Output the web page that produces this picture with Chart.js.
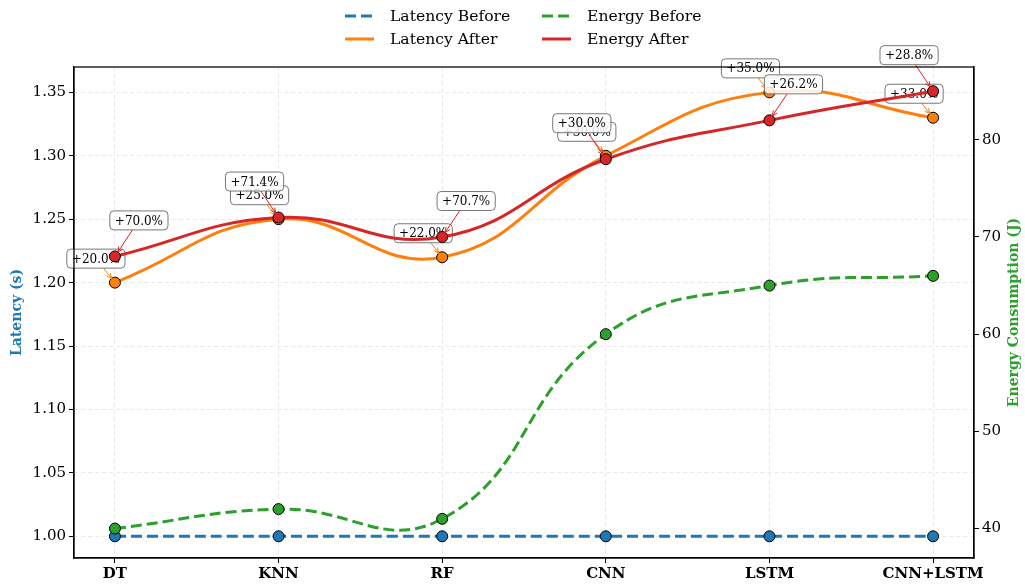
<!DOCTYPE html>
<html>
<head>
<meta charset="utf-8">
<script src="https://cdn.jsdelivr.net/npm/chart.js@4.4.0/dist/chart.umd.min.js"></script>
<style>
html, body { margin: 0; padding: 0; background: #fff; }
</style>
</head>
<body>
<canvas id="chart" width="1025" height="585"></canvas>
<script>
// values
const models = ["DT", "KNN", "RF", "CNN", "LSTM", "CNN+LSTM"]
const latencyBefore = [1.00, 1.00, 1.00, 1.00, 1.00, 1.00]
const latencyAfter = [1.20, 1.25, 1.22, 1.30, 1.35, 1.33]
const energyBefore = [40, 42, 41, 60, 65, 66]
const energyAfter = [68, 72, 70, 78, 82, 85]
const latencyTicks = [1.00, 1.05, 1.10, 1.15, 1.20, 1.25, 1.30, 1.35]
const energyTicks = [40, 50, 60, 70, 80]

const SERIF = "'DejaVu Serif', serif"
Chart.defaults.font.family = SERIF
Chart.defaults.color = "#000"

const pts = arr => arr.map((v, i) => ({ x: i, y: v }))
const pct = (a, b) => b.map((v, i) => "+" + ((v - a[i]) / a[i] * 100).toFixed(1) + "%")

function lineSet(label, data, color, axis, dashed, order) {
    return {
        label: label,
        data: pts(data),
        yAxisID: axis,
        borderColor: color,
        backgroundColor: color,
        borderWidth: 3,
        borderDash: dashed ? [11, 5] : [],
        tension: 0.45,
        pointRadius: 5.5,
        pointBorderColor: "#000",
        pointBorderWidth: 1,
        pointBackgroundColor: color,
        order: order
    }
}

const latAfterSet = lineSet("Latency After", latencyAfter, "#ff7f0e", "y", false, 3)
latAfterSet.notes = { labels: pct(latencyBefore, latencyAfter), dx: [-19], dy: -24 }
const enAfterSet = lineSet("Energy After", energyAfter, "#d62728", "y1", false, 1)
enAfterSet.notes = { labels: pct(energyBefore, energyAfter), dx: [24, -24], dy: -36 }

const datasets = [
    lineSet("Latency Before", latencyBefore, "#1f77b4", "y", true, 4),
    lineSet("Energy Before", energyBefore, "#2ca02c", "y1", true, 2),
    latAfterSet,
    enAfterSet
]

// percent boxes with arrows, drawn right after their series
const annotate = {
    id: "annotate",
    afterDatasetDraw(chart, args) {
        const ds = chart.data.datasets[args.index]
        if (!ds.notes) return
        const ctx = chart.ctx
        const xs = chart.scales.x
        const ys = chart.scales[ds.yAxisID]
        ctx.save()
        ctx.font = "12px " + SERIF
        ds.data.forEach((p, i) => {
            const px = xs.getPixelForValue(p.x)
            const py = ys.getPixelForValue(p.y)
            const cx = px + ds.notes.dx[i % ds.notes.dx.length]
            const cy = py + ds.notes.dy
            const text = ds.notes.labels[i]
            const w = ctx.measureText(text).width + 10
            const h = 19
            // arrow from box edge to point
            const vx = px - cx, vy = py - cy
            const len = Math.hypot(vx, vy)
            const ux = vx / len, uy = vy / len
            const tEdge = Math.min(Math.abs((w / 2) / (ux || 1e-9)), Math.abs((h / 2) / (uy || 1e-9)))
            const sx = cx + ux * tEdge, sy = cy + uy * tEdge
            const ex = px - ux * 5, ey = py - uy * 5
            ctx.strokeStyle = ds.borderColor
            ctx.lineWidth = 1
            ctx.setLineDash([])
            ctx.beginPath()
            ctx.moveTo(sx, sy)
            ctx.lineTo(ex, ey)
            const a = Math.atan2(uy, ux)
            ctx.moveTo(ex - 6 * Math.cos(a - 0.4), ey - 6 * Math.sin(a - 0.4))
            ctx.lineTo(ex, ey)
            ctx.lineTo(ex - 6 * Math.cos(a + 0.4), ey - 6 * Math.sin(a + 0.4))
            ctx.stroke()
            // box
            ctx.beginPath()
            ctx.roundRect(cx - w / 2, cy - h / 2, w, h, 4)
            ctx.fillStyle = "rgba(255,255,255,0.85)"
            ctx.fill()
            ctx.strokeStyle = "#777"
            ctx.stroke()
            ctx.fillStyle = "#000"
            ctx.textAlign = "center"
            ctx.textBaseline = "middle"
            ctx.fillText(text, cx, cy + 1)
        })
        ctx.restore()
    },
    afterDraw(chart) {
        const ctx = chart.ctx
        const area = chart.chartArea
        ctx.save()
        ctx.strokeStyle = "#000"
        ctx.lineWidth = 1.25
        ctx.setLineDash([])
        ctx.strokeRect(area.left, area.top, area.right - area.left, area.bottom - area.top)

        // axis titles, both reading bottom to top
        const midY = (area.top + area.bottom) / 2
        ctx.font = "bold 14px " + SERIF
        ctx.textAlign = "center"
        ctx.textBaseline = "middle"
        ctx.translate(17, midY)
        ctx.rotate(-Math.PI / 2)
        ctx.fillStyle = "#1f77b4"
        ctx.fillText("Latency (s)", 0, 0)
        ctx.setTransform(1, 0, 0, 1, 0, 0)
        ctx.translate(1014, midY)
        ctx.rotate(-Math.PI / 2)
        ctx.fillStyle = "#2ca02c"
        ctx.fillText("Energy Consumption (J)", 0, 0)
        ctx.setTransform(1, 0, 0, 1, 0, 0)

        // legend, two columns
        const cols = [{ lx: 345, tx: 390 }, { lx: 542, tx: 587 }]
        const rows = [16, 39]
        const layout = [["Latency Before", 0, 0], ["Energy Before", 1, 0], ["Latency After", 0, 1], ["Energy After", 1, 1]]
        ctx.font = "15.6px " + SERIF
        ctx.textAlign = "left"
        layout.forEach(([label, c, r]) => {
            const ds = chart.data.datasets.find(d => d.label === label)
            const y = rows[r]
            ctx.strokeStyle = ds.borderColor
            ctx.lineWidth = 3
            ctx.setLineDash(ds.borderDash)
            ctx.beginPath()
            ctx.moveTo(cols[c].lx, y)
            ctx.lineTo(cols[c].lx + 29, y)
            ctx.stroke()
            ctx.fillStyle = "#000"
            ctx.fillText(label, cols[c].tx, y + 1)
        })
        ctx.restore()
    }
}

const gridStyle = { color: "#e3e3e3", lineWidth: 0.8, tickColor: "#000", tickLength: 5, tickWidth: 1 }
const borderStyle = { color: "#000", width: 1.25, dash: [4, 3] }

new Chart(document.getElementById("chart"), {
    type: "line",
    data: { datasets: datasets },
    options: {
        responsive: false,
        animation: false,
        devicePixelRatio: 1,
        layout: { padding: { top: 67, left: 0, right: 0, bottom: 0 } },
        plugins: { legend: { display: false }, tooltip: { enabled: false } },
        scales: {
            x: {
                type: "linear",
                min: -0.25,
                max: 5.25,
                afterBuildTicks: axis => { axis.ticks = models.map((_, i) => ({ value: i })) },
                afterFit: axis => { axis.height = 27 },
                ticks: {
                    callback: v => models[v],
                    font: { size: 15, weight: "bold" },
                    padding: 2,
                    maxRotation: 0,
                    autoSkip: false
                },
                grid: gridStyle,
                border: borderStyle
            },
            y: {
                position: "left",
                min: 0.9829,
                max: 1.370,
                afterBuildTicks: axis => { axis.ticks = latencyTicks.map(v => ({ value: v })) },
                afterFit: axis => { axis.width = 74 },
                ticks: { callback: v => v.toFixed(2), font: { size: 15 }, padding: 3 },
                grid: gridStyle,
                border: borderStyle
            },
            y1: {
                position: "right",
                min: 36.97,
                max: 87.49,
                afterBuildTicks: axis => { axis.ticks = energyTicks.map(v => ({ value: v })) },
                afterFit: axis => { axis.width = 51 },
                ticks: { font: { size: 15 }, padding: 3 },
                grid: { drawOnChartArea: false, tickColor: "#000", tickLength: 5, tickWidth: 1 },
                border: { color: "#000", width: 1.25 }
            }
        }
    },
    plugins: [annotate]
})
</script>
</body>
</html>
